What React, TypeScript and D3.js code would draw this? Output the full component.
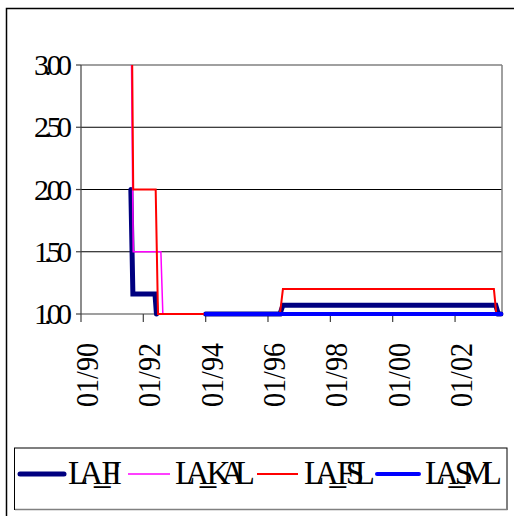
import React from "react";
import * as d3 from "d3";

// ---- data ----
const yTicks = [1.0, 1.5, 2.0, 2.5, 3.0];
const xTickDates = ["1990-01-01", "1992-01-01", "1994-01-01", "1996-01-01", "1998-01-01", "2000-01-01", "2002-01-01"];
const xTickLabels = ["01/90", "01/92", "01/94", "01/96", "01/98", "01/00", "01/02"];

const seriesNames = ["LA_FI", "LA_KAL", "LA_FSL", "LA_SML"];
const seriesColors = ["#000080", "#FF00FF", "#FF0000", "#0000FF"];
const seriesWidths = [5, 1.5, 2, 4];

const fiDates = ["1991-08-08", "1991-09-01", "1992-05-17", "1992-06-03", "1993-01-01", "1994-01-01", "1996-05-20", "1996-06-24", "2003-04-23", "2003-05-23", "2003-06-22"];
const fiValues = [2.0, 1.16, 1.16, 1.0, null, 1.0, 1.0, 1.07, 1.07, 1.0, 1.0];

const kalDates = ["1991-08-16", "1991-09-05", "1992-07-25", "1992-08-17", "2003-06-20"];
const kalValues = [3.0, 1.5, 1.5, 1.0, 1.0];

const fslDates = ["1991-08-24", "1991-09-05", "1992-05-25", "1992-06-21", "1996-05-20", "1996-06-24", "2003-04-01", "2003-04-30", "2003-06-20"];
const fslValues = [3.0, 2.0, 2.0, 1.0, 1.0, 1.2, 1.2, 1.0, 1.0];

const smlDates = ["1994-01-01", "2003-06-25"];
const smlValues = [1.0, 1.0];

const legendTextLengths = [54, 80, 71, 77];

// ---- layout ----
const W = 514;
const H = 516;
const plot = { left: 81, top: 65, right: 502, bottom: 314 };
const FONT = "Liberation Serif, Times New Roman, serif";

const parse = d3.timeParse("%Y-%m-%d");

export default function App() {
  const x = d3
    .scaleTime()
    .domain([parse("1990-01-01")!, parse("2003-07-05")!])
    .range([plot.left, plot.right]);
  const y = d3.scaleLinear().domain([1, 3]).range([plot.bottom, plot.top]);

  const allDates = [fiDates, kalDates, fslDates, smlDates];
  const allValues = [fiValues, kalValues, fslValues, smlValues];

  const line = d3
    .line<{ d: Date; v: number | null }>()
    .defined((p) => p.v !== null)
    .x((p) => x(p.d))
    .y((p) => y(p.v as number));

  const paths = allDates.map((ds, i) =>
    line(ds.map((s, j) => ({ d: parse(s)!, v: allValues[i][j] })))
  );

  // legend layout
  const legendLines = [
    [20, 64],
    [128, 170],
    [257, 298],
    [377, 419],
  ];
  const legendTextX = [68, 175, 304, 425];
  const legendY = 474;

  return (
    <svg
      width={W}
      height={H}
      style={{ position: "absolute", left: 0, top: 0, background: "#fff", fontFamily: FONT }}
    >
      {/* outer chart border */}
      <rect x={6.5} y={8.5} width={W + 10} height={H + 10} fill="#fff" stroke="#000" strokeWidth={1.5} />

      {/* gridlines */}
      {yTicks
        .filter((t) => t > 1 && t < 3)
        .map((t) => (
          <line key={"g" + t} x1={plot.left} x2={plot.right} y1={y(t)} y2={y(t)} stroke="#000" strokeWidth={1} />
        ))}

      {/* plot area border (top/right) */}
      <line x1={plot.left} x2={plot.right} y1={y(3)} y2={y(3)} stroke="#808080" strokeWidth={1.5} />
      <line x1={plot.right} x2={plot.right} y1={y(3)} y2={plot.bottom} stroke="#808080" strokeWidth={1.5} />

      {/* axes */}
      <line x1={plot.left} x2={plot.left} y1={plot.top} y2={plot.bottom} stroke="#404040" strokeWidth={1.2} />
      <line x1={plot.left} x2={plot.right} y1={plot.bottom} y2={plot.bottom} stroke="#404040" strokeWidth={1.2} />

      {/* y ticks & labels */}
      {yTicks.map((t) => (
        <g key={"y" + t}>
          <line x1={plot.left - 5} x2={plot.left} y1={y(t)} y2={y(t)} stroke="#404040" strokeWidth={1.2} />
          <text
            x={72}
            y={y(t) + 10}
            textAnchor="end"
            style={{ fontFamily: FONT, fontSize: "30px" }}
            textLength={38}
            lengthAdjust="spacing"
            fill="#000"
          >
            {t.toFixed(2)}
          </text>
        </g>
      ))}

      {/* x ticks & labels */}
      {xTickDates.map((s, i) => {
        const tx = x(parse(s)!);
        return (
          <g key={"x" + s}>
            <line x1={tx} x2={tx} y1={plot.bottom} y2={plot.bottom + 8} stroke="#404040" strokeWidth={1.2} />
            <text
              transform={`translate(${tx + 17},${343}) rotate(-90)`}
              textAnchor="end"
              style={{ fontFamily: FONT, fontSize: "32px" }}
              textLength={64}
              lengthAdjust="spacingAndGlyphs"
              fill="#000"
            >
              {xTickLabels[i]}
            </text>
          </g>
        );
      })}

      {/* series */}
      {paths.map((p, i) => (
        <path
          key={seriesNames[i]}
          d={p || ""}
          fill="none"
          stroke={seriesColors[i]}
          strokeWidth={seriesWidths[i]}
          strokeLinejoin="miter"
          strokeLinecap={seriesWidths[i] > 3 ? "round" : "butt"}
        />
      ))}

      {/* legend */}
      <rect x={14.5} y={448} width={492.5} height={61.5} fill="#fff" stroke="#000" strokeWidth={1} />
      <line x1={15} x2={507.5} y1={509.5} y2={509.5} stroke="#808080" strokeWidth={1.5} />
      {seriesNames.map((n, i) => (
        <g key={"l" + n}>
          <line
            x1={legendLines[i][0]}
            x2={legendLines[i][1]}
            y1={legendY}
            y2={legendY}
            stroke={seriesColors[i]}
            strokeWidth={seriesWidths[i]}
            strokeLinecap={seriesWidths[i] > 3 ? "round" : "butt"}
          />
          <text
            x={legendTextX[i]}
            y={484}
            style={{ fontFamily: FONT, fontSize: "33px" }}
            textLength={legendTextLengths[i]}
            lengthAdjust="spacing"
            fill="#000"
          >
            {n}
          </text>
        </g>
      ))}
    </svg>
  );
}
